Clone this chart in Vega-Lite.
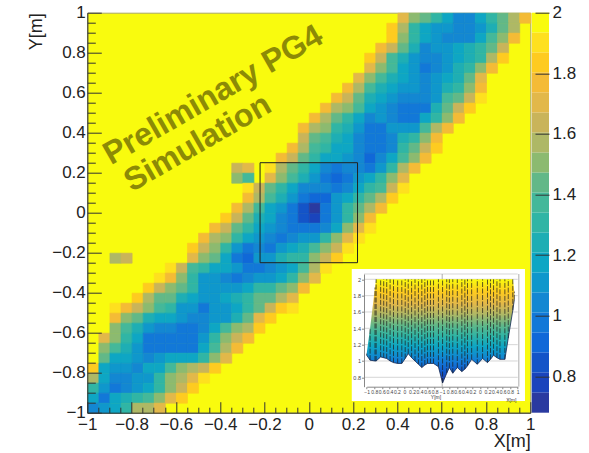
{"$schema":"https://vega.github.io/schema/vega-lite/v6.json","width":443,"height":400,"autosize":{"type":"none"},"padding":{"left":87.3,"top":12.7,"right":58.7,"bottom":40.3},"background":"white","config":{"view":{"fill":"#f9fb0e","stroke":"#a8a860"}},"resolve":{"scale":{"x":"independent","y":"independent"},"axis":{"x":"independent","y":"independent"}},"layer":[
{"resolve":{"axis":{"x":"independent","y":"independent"}},"layer":[
{"data":{"values":[
{"x":0.425,"y":0.975,"z":1.7},{"x":0.475,"y":0.975,"z":1.51},{"x":0.525,"y":0.975,"z":1.44},{"x":0.575,"y":0.975,"z":1.31},{"x":0.625,"y":0.975,"z":1.18},{"x":0.675,"y":0.975,"z":1.04},{"x":0.725,"y":0.975,"z":1.04},{"x":0.775,"y":0.975,"z":1.18},{"x":0.825,"y":0.975,"z":1.31},{"x":0.875,"y":0.975,"z":1.44},{"x":0.925,"y":0.975,"z":1.57},{"x":0.975,"y":0.975,"z":1.77},
{"x":0.375,"y":0.925,"z":1.84},{"x":0.425,"y":0.925,"z":1.57},{"x":0.475,"y":0.925,"z":1.31},{"x":0.525,"y":0.925,"z":1.18},{"x":0.575,"y":0.925,"z":1.11},{"x":0.625,"y":0.925,"z":1.11},{"x":0.675,"y":0.925,"z":1.04},{"x":0.725,"y":0.925,"z":1.04},{"x":0.775,"y":0.925,"z":1.11},{"x":0.825,"y":0.925,"z":1.24},{"x":0.875,"y":0.925,"z":1.44},{"x":0.925,"y":0.925,"z":1.57},
{"x":0.375,"y":0.875,"z":1.84},{"x":0.425,"y":0.875,"z":1.51},{"x":0.475,"y":0.875,"z":1.31},{"x":0.525,"y":0.875,"z":1.18},{"x":0.575,"y":0.875,"z":1.11},{"x":0.625,"y":0.875,"z":1.04},{"x":0.675,"y":0.875,"z":1.04},{"x":0.725,"y":0.875,"z":1.04},{"x":0.775,"y":0.875,"z":1.18},{"x":0.825,"y":0.875,"z":1.37},{"x":0.875,"y":0.875,"z":1.51},{"x":0.925,"y":0.875,"z":1.77},
{"x":0.325,"y":0.825,"z":1.77},{"x":0.375,"y":0.825,"z":1.64},{"x":0.425,"y":0.825,"z":1.44},{"x":0.475,"y":0.825,"z":1.24},{"x":0.525,"y":0.825,"z":1.04},{"x":0.575,"y":0.825,"z":1.11},{"x":0.625,"y":0.825,"z":1.11},{"x":0.675,"y":0.825,"z":1.18},{"x":0.725,"y":0.825,"z":1.24},{"x":0.775,"y":0.825,"z":1.31},{"x":0.825,"y":0.825,"z":1.44},{"x":0.875,"y":0.825,"z":1.64},
{"x":0.275,"y":0.775,"z":1.84},{"x":0.325,"y":0.775,"z":1.64},{"x":0.375,"y":0.775,"z":1.37},{"x":0.425,"y":0.775,"z":1.24},{"x":0.475,"y":0.775,"z":1.11},{"x":0.525,"y":0.775,"z":1.04},{"x":0.575,"y":0.775,"z":1.04},{"x":0.625,"y":0.775,"z":1.11},{"x":0.675,"y":0.775,"z":1.18},{"x":0.725,"y":0.775,"z":1.24},{"x":0.775,"y":0.775,"z":1.31},{"x":0.825,"y":0.775,"z":1.57},{"x":0.875,"y":0.775,"z":1.84},
{"x":0.275,"y":0.725,"z":1.7},{"x":0.325,"y":0.725,"z":1.51},{"x":0.375,"y":0.725,"z":1.37},{"x":0.425,"y":0.725,"z":1.18},{"x":0.475,"y":0.725,"z":1.11},{"x":0.525,"y":0.725,"z":0.98},{"x":0.575,"y":0.725,"z":1.04},{"x":0.625,"y":0.725,"z":1.11},{"x":0.675,"y":0.725,"z":1.24},{"x":0.725,"y":0.725,"z":1.31},{"x":0.775,"y":0.725,"z":1.51},{"x":0.825,"y":0.725,"z":1.77},
{"x":0.225,"y":0.675,"z":1.7},{"x":0.275,"y":0.675,"z":1.51},{"x":0.325,"y":0.675,"z":1.37},{"x":0.375,"y":0.675,"z":1.24},{"x":0.425,"y":0.675,"z":1.18},{"x":0.475,"y":0.675,"z":1.11},{"x":0.525,"y":0.675,"z":1.04},{"x":0.575,"y":0.675,"z":1.11},{"x":0.625,"y":0.675,"z":1.18},{"x":0.675,"y":0.675,"z":1.24},{"x":0.725,"y":0.675,"z":1.44},{"x":0.775,"y":0.675,"z":1.7},
{"x":0.175,"y":0.625,"z":1.77},{"x":0.225,"y":0.625,"z":1.57},{"x":0.275,"y":0.625,"z":1.37},{"x":0.325,"y":0.625,"z":1.24},{"x":0.375,"y":0.625,"z":1.18},{"x":0.425,"y":0.625,"z":1.11},{"x":0.475,"y":0.625,"z":1.11},{"x":0.525,"y":0.625,"z":1.04},{"x":0.575,"y":0.625,"z":1.11},{"x":0.625,"y":0.625,"z":1.24},{"x":0.675,"y":0.625,"z":1.31},{"x":0.725,"y":0.625,"z":1.51},{"x":0.775,"y":0.625,"z":1.77},
{"x":0.125,"y":0.575,"z":1.77},{"x":0.175,"y":0.575,"z":1.64},{"x":0.225,"y":0.575,"z":1.44},{"x":0.275,"y":0.575,"z":1.24},{"x":0.325,"y":0.575,"z":1.18},{"x":0.375,"y":0.575,"z":1.11},{"x":0.425,"y":0.575,"z":1.04},{"x":0.475,"y":0.575,"z":1.04},{"x":0.525,"y":0.575,"z":1.04},{"x":0.575,"y":0.575,"z":1.11},{"x":0.625,"y":0.575,"z":1.37},{"x":0.675,"y":0.575,"z":1.44},{"x":0.725,"y":0.575,"z":1.64},{"x":0.775,"y":0.575,"z":1.9},
{"x":0.075,"y":0.525,"z":1.77},{"x":0.125,"y":0.525,"z":1.57},{"x":0.175,"y":0.525,"z":1.51},{"x":0.225,"y":0.525,"z":1.37},{"x":0.275,"y":0.525,"z":1.18},{"x":0.325,"y":0.525,"z":1.11},{"x":0.375,"y":0.525,"z":1.04},{"x":0.425,"y":0.525,"z":0.98},{"x":0.475,"y":0.525,"z":0.98},{"x":0.525,"y":0.525,"z":0.98},{"x":0.575,"y":0.525,"z":1.24},{"x":0.625,"y":0.525,"z":1.44},{"x":0.675,"y":0.525,"z":1.64},{"x":0.725,"y":0.525,"z":1.84},
{"x":0.025,"y":0.475,"z":1.77},{"x":0.075,"y":0.475,"z":1.57},{"x":0.125,"y":0.475,"z":1.44},{"x":0.175,"y":0.475,"z":1.31},{"x":0.225,"y":0.475,"z":1.18},{"x":0.275,"y":0.475,"z":1.04},{"x":0.325,"y":0.475,"z":1.11},{"x":0.375,"y":0.475,"z":1.04},{"x":0.425,"y":0.475,"z":0.98},{"x":0.475,"y":0.475,"z":0.98},{"x":0.525,"y":0.475,"z":1.18},{"x":0.575,"y":0.475,"z":1.31},{"x":0.625,"y":0.475,"z":1.51},{"x":0.675,"y":0.475,"z":1.77},
{"x":-0.025,"y":0.425,"z":1.77},{"x":0.025,"y":0.425,"z":1.57},{"x":0.075,"y":0.425,"z":1.51},{"x":0.125,"y":0.425,"z":1.31},{"x":0.175,"y":0.425,"z":1.24},{"x":0.225,"y":0.425,"z":1.11},{"x":0.275,"y":0.425,"z":0.98},{"x":0.325,"y":0.425,"z":0.98},{"x":0.375,"y":0.425,"z":1.11},{"x":0.425,"y":0.425,"z":1.11},{"x":0.475,"y":0.425,"z":1.11},{"x":0.525,"y":0.425,"z":1.37},{"x":0.575,"y":0.425,"z":1.57},{"x":0.625,"y":0.425,"z":1.77},
{"x":-0.025,"y":0.375,"z":1.64},{"x":0.025,"y":0.375,"z":1.44},{"x":0.075,"y":0.375,"z":1.37},{"x":0.125,"y":0.375,"z":1.24},{"x":0.175,"y":0.375,"z":1.18},{"x":0.225,"y":0.375,"z":1.04},{"x":0.275,"y":0.375,"z":0.98},{"x":0.325,"y":0.375,"z":0.98},{"x":0.375,"y":0.375,"z":1.04},{"x":0.425,"y":0.375,"z":1.24},{"x":0.475,"y":0.375,"z":1.31},{"x":0.525,"y":0.375,"z":1.51},{"x":0.575,"y":0.375,"z":1.77},
{"x":-0.075,"y":0.325,"z":1.77},{"x":-0.025,"y":0.325,"z":1.57},{"x":0.025,"y":0.325,"z":1.37},{"x":0.075,"y":0.325,"z":1.31},{"x":0.125,"y":0.325,"z":1.18},{"x":0.175,"y":0.325,"z":1.18},{"x":0.225,"y":0.325,"z":1.04},{"x":0.275,"y":0.325,"z":0.98},{"x":0.325,"y":0.325,"z":0.98},{"x":0.375,"y":0.325,"z":1.04},{"x":0.425,"y":0.325,"z":1.31},{"x":0.475,"y":0.325,"z":1.44},{"x":0.525,"y":0.325,"z":1.64},{"x":0.575,"y":0.325,"z":1.84},
{"x":-0.125,"y":0.275,"z":1.77},{"x":-0.075,"y":0.275,"z":1.64},{"x":-0.025,"y":0.275,"z":1.44},{"x":0.025,"y":0.275,"z":1.31},{"x":0.075,"y":0.275,"z":1.18},{"x":0.125,"y":0.275,"z":1.18},{"x":0.175,"y":0.275,"z":1.11},{"x":0.225,"y":0.275,"z":1.04},{"x":0.275,"y":0.275,"z":0.91},{"x":0.325,"y":0.275,"z":1.04},{"x":0.375,"y":0.275,"z":1.18},{"x":0.425,"y":0.275,"z":1.37},{"x":0.475,"y":0.275,"z":1.51},{"x":0.525,"y":0.275,"z":1.77},
{"x":-0.325,"y":0.225,"z":1.64},{"x":-0.275,"y":0.225,"z":1.7},{"x":-0.175,"y":0.225,"z":1.9},{"x":-0.125,"y":0.225,"z":1.57},{"x":-0.075,"y":0.225,"z":1.44},{"x":-0.025,"y":0.225,"z":1.31},{"x":0.025,"y":0.225,"z":1.18},{"x":0.075,"y":0.225,"z":1.04},{"x":0.125,"y":0.225,"z":0.98},{"x":0.175,"y":0.225,"z":1.04},{"x":0.225,"y":0.225,"z":1.04},{"x":0.275,"y":0.225,"z":0.98},{"x":0.325,"y":0.225,"z":1.11},{"x":0.375,"y":0.225,"z":1.31},{"x":0.425,"y":0.225,"z":1.57},{"x":0.475,"y":0.225,"z":1.77},
{"x":-0.325,"y":0.175,"z":1.51},{"x":-0.275,"y":0.175,"z":1.37},{"x":-0.175,"y":0.175,"z":1.7},{"x":-0.125,"y":0.175,"z":1.51},{"x":-0.075,"y":0.175,"z":1.37},{"x":-0.025,"y":0.175,"z":1.24},{"x":0.025,"y":0.175,"z":1.11},{"x":0.075,"y":0.175,"z":0.98},{"x":0.125,"y":0.175,"z":0.91},{"x":0.175,"y":0.175,"z":0.98},{"x":0.225,"y":0.175,"z":1.11},{"x":0.275,"y":0.175,"z":1.18},{"x":0.325,"y":0.175,"z":1.31},{"x":0.375,"y":0.175,"z":1.51},{"x":0.425,"y":0.175,"z":1.7},
{"x":-0.275,"y":0.125,"z":1.9},{"x":-0.225,"y":0.125,"z":1.64},{"x":-0.175,"y":0.125,"z":1.44},{"x":-0.125,"y":0.125,"z":1.31},{"x":-0.075,"y":0.125,"z":1.18},{"x":-0.025,"y":0.125,"z":1.04},{"x":0.025,"y":0.125,"z":1.04},{"x":0.075,"y":0.125,"z":1.04},{"x":0.125,"y":0.125,"z":0.98},{"x":0.175,"y":0.125,"z":1.04},{"x":0.225,"y":0.125,"z":1.18},{"x":0.275,"y":0.125,"z":1.31},{"x":0.325,"y":0.125,"z":1.37},{"x":0.375,"y":0.125,"z":1.64},{"x":0.425,"y":0.125,"z":1.9},
{"x":-0.275,"y":0.075,"z":1.77},{"x":-0.225,"y":0.075,"z":1.57},{"x":-0.175,"y":0.075,"z":1.37},{"x":-0.125,"y":0.075,"z":1.24},{"x":-0.075,"y":0.075,"z":1.11},{"x":-0.025,"y":0.075,"z":0.98},{"x":0.025,"y":0.075,"z":0.91},{"x":0.075,"y":0.075,"z":0.91},{"x":0.125,"y":0.075,"z":1.11},{"x":0.175,"y":0.075,"z":1.18},{"x":0.225,"y":0.075,"z":1.31},{"x":0.275,"y":0.075,"z":1.44},{"x":0.325,"y":0.075,"z":1.57},{"x":0.375,"y":0.075,"z":1.84},
{"x":-0.325,"y":0.025,"z":1.77},{"x":-0.275,"y":0.025,"z":1.57},{"x":-0.225,"y":0.025,"z":1.37},{"x":-0.175,"y":0.025,"z":1.18},{"x":-0.125,"y":0.025,"z":1.11},{"x":-0.075,"y":0.025,"z":0.98},{"x":-0.025,"y":0.025,"z":0.85},{"x":0.025,"y":0.025,"z":0.71},{"x":0.075,"y":0.025,"z":0.98},{"x":0.125,"y":0.025,"z":1.11},{"x":0.175,"y":0.025,"z":1.31},{"x":0.225,"y":0.025,"z":1.44},{"x":0.275,"y":0.025,"z":1.57},{"x":0.325,"y":0.025,"z":1.77},
{"x":-0.375,"y":-0.025,"z":1.84},{"x":-0.325,"y":-0.025,"z":1.64},{"x":-0.275,"y":-0.025,"z":1.44},{"x":-0.225,"y":-0.025,"z":1.24},{"x":-0.175,"y":-0.025,"z":1.18},{"x":-0.125,"y":-0.025,"z":1.04},{"x":-0.075,"y":-0.025,"z":0.98},{"x":-0.025,"y":-0.025,"z":0.85},{"x":0.025,"y":-0.025,"z":0.78},{"x":0.075,"y":-0.025,"z":0.98},{"x":0.125,"y":-0.025,"z":1.11},{"x":0.175,"y":-0.025,"z":1.31},{"x":0.225,"y":-0.025,"z":1.51},{"x":0.275,"y":-0.025,"z":1.77},
{"x":-0.425,"y":-0.075,"z":1.77},{"x":-0.375,"y":-0.075,"z":1.64},{"x":-0.325,"y":-0.075,"z":1.44},{"x":-0.275,"y":-0.075,"z":1.31},{"x":-0.225,"y":-0.075,"z":1.18},{"x":-0.175,"y":-0.075,"z":1.11},{"x":-0.125,"y":-0.075,"z":1.04},{"x":-0.075,"y":-0.075,"z":0.98},{"x":-0.025,"y":-0.075,"z":0.98},{"x":0.025,"y":-0.075,"z":0.98},{"x":0.075,"y":-0.075,"z":1.04},{"x":0.125,"y":-0.075,"z":1.18},{"x":0.175,"y":-0.075,"z":1.51},{"x":0.225,"y":-0.075,"z":1.7},{"x":0.275,"y":-0.075,"z":1.9},
{"x":-0.475,"y":-0.125,"z":1.77},{"x":-0.425,"y":-0.125,"z":1.57},{"x":-0.375,"y":-0.125,"z":1.51},{"x":-0.325,"y":-0.125,"z":1.31},{"x":-0.275,"y":-0.125,"z":1.18},{"x":-0.225,"y":-0.125,"z":1.11},{"x":-0.175,"y":-0.125,"z":1.04},{"x":-0.125,"y":-0.125,"z":0.98},{"x":-0.075,"y":-0.125,"z":1.04},{"x":-0.025,"y":-0.125,"z":1.11},{"x":0.025,"y":-0.125,"z":1.11},{"x":0.075,"y":-0.125,"z":1.31},{"x":0.125,"y":-0.125,"z":1.51},{"x":0.175,"y":-0.125,"z":1.7},{"x":0.225,"y":-0.125,"z":1.9},
{"x":-0.525,"y":-0.175,"z":1.84},{"x":-0.475,"y":-0.175,"z":1.64},{"x":-0.425,"y":-0.175,"z":1.51},{"x":-0.375,"y":-0.175,"z":1.31},{"x":-0.325,"y":-0.175,"z":1.11},{"x":-0.275,"y":-0.175,"z":0.98},{"x":-0.225,"y":-0.175,"z":1.04},{"x":-0.175,"y":-0.175,"z":0.98},{"x":-0.125,"y":-0.175,"z":1.11},{"x":-0.075,"y":-0.175,"z":1.18},{"x":-0.025,"y":-0.175,"z":1.24},{"x":0.025,"y":-0.175,"z":1.37},{"x":0.075,"y":-0.175,"z":1.51},{"x":0.125,"y":-0.175,"z":1.64},{"x":0.175,"y":-0.175,"z":1.9},
{"x":-0.875,"y":-0.225,"z":1.57},{"x":-0.825,"y":-0.225,"z":1.64},{"x":-0.525,"y":-0.225,"z":1.7},{"x":-0.475,"y":-0.225,"z":1.51},{"x":-0.425,"y":-0.225,"z":1.44},{"x":-0.375,"y":-0.225,"z":1.18},{"x":-0.325,"y":-0.225,"z":0.98},{"x":-0.275,"y":-0.225,"z":0.91},{"x":-0.225,"y":-0.225,"z":1.11},{"x":-0.175,"y":-0.225,"z":1.11},{"x":-0.125,"y":-0.225,"z":1.24},{"x":-0.075,"y":-0.225,"z":1.31},{"x":-0.025,"y":-0.225,"z":1.31},{"x":0.025,"y":-0.225,"z":1.51},{"x":0.075,"y":-0.225,"z":1.64},{"x":0.125,"y":-0.225,"z":1.84},
{"x":-0.625,"y":-0.275,"z":1.9},{"x":-0.575,"y":-0.275,"z":1.64},{"x":-0.525,"y":-0.275,"z":1.37},{"x":-0.475,"y":-0.275,"z":1.31},{"x":-0.425,"y":-0.275,"z":1.18},{"x":-0.375,"y":-0.275,"z":1.18},{"x":-0.325,"y":-0.275,"z":1.11},{"x":-0.275,"y":-0.275,"z":0.98},{"x":-0.225,"y":-0.275,"z":0.98},{"x":-0.175,"y":-0.275,"z":1.04},{"x":-0.125,"y":-0.275,"z":1.11},{"x":-0.075,"y":-0.275,"z":1.18},{"x":-0.025,"y":-0.275,"z":1.37},{"x":0.025,"y":-0.275,"z":1.57},{"x":0.075,"y":-0.275,"z":1.9},
{"x":-0.675,"y":-0.325,"z":1.9},{"x":-0.625,"y":-0.325,"z":1.77},{"x":-0.575,"y":-0.325,"z":1.51},{"x":-0.525,"y":-0.325,"z":1.31},{"x":-0.475,"y":-0.325,"z":1.11},{"x":-0.425,"y":-0.325,"z":1.11},{"x":-0.375,"y":-0.325,"z":1.04},{"x":-0.325,"y":-0.325,"z":0.98},{"x":-0.275,"y":-0.325,"z":1.04},{"x":-0.225,"y":-0.325,"z":1.11},{"x":-0.175,"y":-0.325,"z":1.11},{"x":-0.125,"y":-0.325,"z":1.18},{"x":-0.075,"y":-0.325,"z":1.31},{"x":-0.025,"y":-0.325,"z":1.51},{"x":0.025,"y":-0.325,"z":1.7},
{"x":-0.725,"y":-0.375,"z":1.84},{"x":-0.675,"y":-0.375,"z":1.64},{"x":-0.625,"y":-0.375,"z":1.51},{"x":-0.575,"y":-0.375,"z":1.44},{"x":-0.525,"y":-0.375,"z":1.31},{"x":-0.475,"y":-0.375,"z":1.11},{"x":-0.425,"y":-0.375,"z":1.11},{"x":-0.375,"y":-0.375,"z":1.11},{"x":-0.325,"y":-0.375,"z":1.11},{"x":-0.275,"y":-0.375,"z":1.18},{"x":-0.225,"y":-0.375,"z":1.31},{"x":-0.175,"y":-0.375,"z":1.31},{"x":-0.125,"y":-0.375,"z":1.44},{"x":-0.075,"y":-0.375,"z":1.51},{"x":-0.025,"y":-0.375,"z":1.77},
{"x":-0.775,"y":-0.425,"z":1.84},{"x":-0.725,"y":-0.425,"z":1.57},{"x":-0.675,"y":-0.425,"z":1.44},{"x":-0.625,"y":-0.425,"z":1.44},{"x":-0.575,"y":-0.425,"z":1.24},{"x":-0.525,"y":-0.425,"z":1.18},{"x":-0.475,"y":-0.425,"z":1.11},{"x":-0.425,"y":-0.425,"z":1.11},{"x":-0.375,"y":-0.425,"z":1.18},{"x":-0.325,"y":-0.425,"z":1.24},{"x":-0.275,"y":-0.425,"z":1.31},{"x":-0.225,"y":-0.425,"z":1.44},{"x":-0.175,"y":-0.425,"z":1.44},{"x":-0.125,"y":-0.425,"z":1.57},{"x":-0.075,"y":-0.425,"z":1.7},
{"x":-0.875,"y":-0.475,"z":1.9},{"x":-0.825,"y":-0.475,"z":1.77},{"x":-0.775,"y":-0.475,"z":1.64},{"x":-0.725,"y":-0.475,"z":1.51},{"x":-0.675,"y":-0.475,"z":1.37},{"x":-0.625,"y":-0.475,"z":1.31},{"x":-0.575,"y":-0.475,"z":1.11},{"x":-0.525,"y":-0.475,"z":1.11},{"x":-0.475,"y":-0.475,"z":0.98},{"x":-0.425,"y":-0.475,"z":1.11},{"x":-0.375,"y":-0.475,"z":1.11},{"x":-0.325,"y":-0.475,"z":1.18},{"x":-0.275,"y":-0.475,"z":1.31},{"x":-0.225,"y":-0.475,"z":1.44},{"x":-0.175,"y":-0.475,"z":1.64},{"x":-0.125,"y":-0.475,"z":1.84},{"x":-0.075,"y":-0.475,"z":1.9},
{"x":-0.875,"y":-0.525,"z":1.77},{"x":-0.825,"y":-0.525,"z":1.51},{"x":-0.775,"y":-0.525,"z":1.44},{"x":-0.725,"y":-0.525,"z":1.24},{"x":-0.675,"y":-0.525,"z":1.18},{"x":-0.625,"y":-0.525,"z":1.18},{"x":-0.575,"y":-0.525,"z":1.11},{"x":-0.525,"y":-0.525,"z":1.04},{"x":-0.475,"y":-0.525,"z":1.04},{"x":-0.425,"y":-0.525,"z":1.11},{"x":-0.375,"y":-0.525,"z":1.11},{"x":-0.325,"y":-0.525,"z":1.24},{"x":-0.275,"y":-0.525,"z":1.44},{"x":-0.225,"y":-0.525,"z":1.7},{"x":-0.175,"y":-0.525,"z":1.84},
{"x":-0.875,"y":-0.575,"z":1.51},{"x":-0.825,"y":-0.575,"z":1.37},{"x":-0.775,"y":-0.575,"z":1.24},{"x":-0.725,"y":-0.575,"z":1.11},{"x":-0.675,"y":-0.575,"z":1.04},{"x":-0.625,"y":-0.575,"z":1.04},{"x":-0.575,"y":-0.575,"z":0.98},{"x":-0.525,"y":-0.575,"z":0.98},{"x":-0.475,"y":-0.575,"z":1.04},{"x":-0.425,"y":-0.575,"z":1.18},{"x":-0.375,"y":-0.575,"z":1.37},{"x":-0.325,"y":-0.575,"z":1.51},{"x":-0.275,"y":-0.575,"z":1.57},{"x":-0.225,"y":-0.575,"z":1.84},
{"x":-0.925,"y":-0.625,"z":1.7},{"x":-0.875,"y":-0.625,"z":1.51},{"x":-0.825,"y":-0.625,"z":1.31},{"x":-0.775,"y":-0.625,"z":1.18},{"x":-0.725,"y":-0.625,"z":0.98},{"x":-0.675,"y":-0.625,"z":0.98},{"x":-0.625,"y":-0.625,"z":0.98},{"x":-0.575,"y":-0.625,"z":0.98},{"x":-0.525,"y":-0.625,"z":0.98},{"x":-0.475,"y":-0.625,"z":1.11},{"x":-0.425,"y":-0.625,"z":1.31},{"x":-0.375,"y":-0.625,"z":1.51},{"x":-0.325,"y":-0.625,"z":1.64},{"x":-0.275,"y":-0.625,"z":1.77},
{"x":-0.925,"y":-0.675,"z":1.51},{"x":-0.875,"y":-0.675,"z":1.37},{"x":-0.825,"y":-0.675,"z":1.24},{"x":-0.775,"y":-0.675,"z":1.11},{"x":-0.725,"y":-0.675,"z":0.98},{"x":-0.675,"y":-0.675,"z":0.98},{"x":-0.625,"y":-0.675,"z":0.98},{"x":-0.575,"y":-0.675,"z":0.98},{"x":-0.525,"y":-0.675,"z":0.98},{"x":-0.475,"y":-0.675,"z":1.18},{"x":-0.425,"y":-0.675,"z":1.37},{"x":-0.375,"y":-0.675,"z":1.57},{"x":-0.325,"y":-0.675,"z":1.77},
{"x":-0.925,"y":-0.725,"z":1.44},{"x":-0.875,"y":-0.725,"z":1.18},{"x":-0.825,"y":-0.725,"z":1.18},{"x":-0.775,"y":-0.725,"z":1.11},{"x":-0.725,"y":-0.725,"z":1.04},{"x":-0.675,"y":-0.725,"z":1.11},{"x":-0.625,"y":-0.725,"z":1.18},{"x":-0.575,"y":-0.725,"z":1.18},{"x":-0.525,"y":-0.725,"z":1.18},{"x":-0.475,"y":-0.725,"z":1.31},{"x":-0.425,"y":-0.725,"z":1.51},{"x":-0.375,"y":-0.725,"z":1.7},
{"x":-0.975,"y":-0.775,"z":1.84},{"x":-0.925,"y":-0.775,"z":1.18},{"x":-0.875,"y":-0.775,"z":1.11},{"x":-0.825,"y":-0.775,"z":1.11},{"x":-0.775,"y":-0.775,"z":1.04},{"x":-0.725,"y":-0.775,"z":1.18},{"x":-0.675,"y":-0.775,"z":1.18},{"x":-0.625,"y":-0.775,"z":1.37},{"x":-0.575,"y":-0.775,"z":1.51},{"x":-0.525,"y":-0.775,"z":1.57},{"x":-0.475,"y":-0.775,"z":1.64},{"x":-0.425,"y":-0.775,"z":1.84},
{"x":-0.975,"y":-0.825,"z":1.57},{"x":-0.925,"y":-0.825,"z":1.18},{"x":-0.875,"y":-0.825,"z":1.04},{"x":-0.825,"y":-0.825,"z":1.04},{"x":-0.775,"y":-0.825,"z":1.11},{"x":-0.725,"y":-0.825,"z":1.11},{"x":-0.675,"y":-0.825,"z":1.31},{"x":-0.625,"y":-0.825,"z":1.51},{"x":-0.575,"y":-0.825,"z":1.57},{"x":-0.525,"y":-0.825,"z":1.7},{"x":-0.475,"y":-0.825,"z":1.9},
{"x":-0.975,"y":-0.875,"z":1.31},{"x":-0.925,"y":-0.875,"z":1.11},{"x":-0.875,"y":-0.875,"z":0.98},{"x":-0.825,"y":-0.875,"z":1.04},{"x":-0.775,"y":-0.875,"z":1.11},{"x":-0.725,"y":-0.875,"z":1.18},{"x":-0.675,"y":-0.875,"z":1.31},{"x":-0.625,"y":-0.875,"z":1.51},{"x":-0.575,"y":-0.875,"z":1.64},{"x":-0.525,"y":-0.875,"z":1.84},
{"x":-0.975,"y":-0.925,"z":1.18},{"x":-0.925,"y":-0.925,"z":0.98},{"x":-0.875,"y":-0.925,"z":1.18},{"x":-0.825,"y":-0.925,"z":1.24},{"x":-0.775,"y":-0.925,"z":1.31},{"x":-0.725,"y":-0.925,"z":1.37},{"x":-0.675,"y":-0.925,"z":1.51},{"x":-0.625,"y":-0.925,"z":1.7},{"x":-0.575,"y":-0.925,"z":1.84},
{"x":-0.975,"y":-0.975,"z":1.04},{"x":-0.925,"y":-0.975,"z":1.11},{"x":-0.875,"y":-0.975,"z":1.18},{"x":-0.825,"y":-0.975,"z":1.31},{"x":-0.775,"y":-0.975,"z":1.57},{"x":-0.725,"y":-0.975,"z":1.57},{"x":-0.675,"y":-0.975,"z":1.7}
]},"mark":{"type":"rect","strokeWidth":0.7},"encoding":{
"x":{"field":"x","type":"quantitative","bin":{"extent":[-1,1],"step":0.05},"scale":{"domain":[-1,1],"nice":false},"axis":{"orient":"bottom","values":[-1,-0.8,-0.6,-0.4,-0.2,0,0.2,0.4,0.6,0.8,1],"format":"~g","zindex":1,"grid":false,"tickSize":-11,"tickColor":"#333","domainColor":"#333","labelFont":"Liberation Sans","labelFontSize":17,"labelColor":"#222","labelPadding":15,"labelOverlap":false,"labelFlush":false,"title":"X[m]","titleFont":"Liberation Sans","titleFontSize":18,"titleFontWeight":"normal","titleColor":"#222","titleAnchor":"end","titlePadding":0}},
"y":{"field":"y","type":"quantitative","bin":{"extent":[-1,1],"step":0.05},"scale":{"domain":[-1,1],"nice":false},"axis":{"orient":"left","values":[-1,-0.8,-0.6,-0.4,-0.2,0,0.2,0.4,0.6,0.8,1],"format":"~g","zindex":1,"grid":false,"tickSize":-14,"tickColor":"#333","domainColor":"#333","labelFont":"Liberation Sans","labelFontSize":17,"labelColor":"#222","labelPadding":16,"labelOverlap":false,"labelFlush":false,"title":"Y[m]","titleFont":"Liberation Sans","titleFontSize":18,"titleFontWeight":"normal","titleColor":"#222","titleAnchor":"end","titlePadding":6}},
"color":{"field":"z","type":"quantitative","legend":null,"scale":{"type":"quantize","domain":[0.68,2],"range":["#2a3aa0","#1a44bc","#1454c8","#1068d8","#1278d8","#1387d2","#0f97cc","#0ea6c4","#1eaeb4","#30b5a5","#44b89a","#62b888","#8cba70","#aeb866","#c9b45a","#e2b84a","#f4bb36","#fecb20","#fee01f","#f9fb0e"]}},
"stroke":{"field":"z","type":"quantitative","legend":null,"scale":{"type":"quantize","domain":[0.68,2],"range":["#2a3aa0","#1a44bc","#1454c8","#1068d8","#1278d8","#1387d2","#0f97cc","#0ea6c4","#1eaeb4","#30b5a5","#44b89a","#62b888","#8cba70","#aeb866","#c9b45a","#e2b84a","#f4bb36","#fecb20","#fee01f","#f9fb0e"]}}}},
{"data":{"values":[{"a":-0.22,"b":0.22,"c":0.25,"d":-0.25}]},"mark":{"type":"rect","fillOpacity":0,"stroke":"#222","strokeWidth":1},"encoding":{
"x":{"field":"a","type":"quantitative","scale":{"domain":[-1,1],"nice":false},"axis":{"orient":"bottom","values":[-0.95,-0.9,-0.85,-0.75,-0.7,-0.65,-0.55,-0.5,-0.45,-0.35,-0.3,-0.25,-0.15,-0.1,-0.05,0.05,0.1,0.15,0.25,0.3,0.35,0.45,0.5,0.55,0.65,0.7,0.75,0.85,0.9,0.95],"labels":false,"domain":false,"grid":false,"title":null,"zindex":1,"tickSize":-5.5,"tickColor":"#333"}},"x2":{"field":"b"},
"y":{"field":"c","type":"quantitative","scale":{"domain":[-1,1],"nice":false},"axis":{"orient":"left","values":[-0.95,-0.9,-0.85,-0.75,-0.7,-0.65,-0.55,-0.5,-0.45,-0.35,-0.3,-0.25,-0.15,-0.1,-0.05,0.05,0.1,0.15,0.25,0.3,0.35,0.45,0.5,0.55,0.65,0.7,0.75,0.85,0.9,0.95],"labels":false,"domain":false,"grid":false,"title":null,"zindex":1,"tickSize":-8,"tickColor":"#333"}},"y2":{"field":"d"}}},
{"data":{"values":[{"a":0.194,"b":0.976,"c":-0.281,"d":-0.942}]},"mark":{"type":"rect","fill":"white"},"encoding":{"x":{"field":"a","type":"quantitative","scale":{"domain":[-1,1],"nice":false},"axis":null},"x2":{"field":"b"},"y":{"field":"c","type":"quantitative","scale":{"domain":[-1,1],"nice":false},"axis":null},"y2":{"field":"d"}}},
{"data":{"values":[{"a":-0.432,"c":0.589,"t":"Preliminary PG4"},{"a":-0.502,"c":0.35,"t":"Simulation"}]},"mark":{"type":"text","font":"Liberation Sans","fontWeight":"bold","fontSize":32,"angle":330,"color":"#8c8a06","align":"center","baseline":"middle"},"encoding":{"x":{"field":"a","type":"quantitative","scale":{"domain":[-1,1],"nice":false},"axis":null},"y":{"field":"c","type":"quantitative","scale":{"domain":[-1,1],"nice":false},"axis":null},"text":{"field":"t"}}}
]},
{"resolve":{"axis":{"x":"independent","y":"independent"}},"layer":[
{"data":{"values":[{"a":-1.07,"b":3.0,"z":2.065},{"a":-1.07,"b":3.0,"z":2},{"a":-1.07,"b":3.0,"z":1.8},{"a":-1.07,"b":3.0,"z":1.6},{"a":-1.07,"b":3.0,"z":1.4},{"a":-1.07,"b":3.0,"z":1.2},{"a":-1.07,"b":3.0,"z":1},{"a":-1.07,"b":3.0,"z":0.8}]},"mark":{"type":"rule","stroke":"#c4c4c4","strokeWidth":0.7},"encoding":{"x":{"field":"a","type":"quantitative","scale":{"domain":[-1,3],"range":[279.4,430.4],"nice":false},"axis":{"orient":"bottom","offset":-26,"values":[-1,-0.8,-0.6,-0.4,-0.2,0,0.2,0.4,0.6,0.8,1,1.2,1.4,1.6,1.8,2,2.2,2.4,2.6,2.8,3],"labelExpr":"(datum.value==1||datum.value==-1)?'−1':format(abs(datum.value<1?datum.value:datum.value-2),'~g')","labelFont":"Liberation Sans","labelFontSize":5,"labelColor":"#444","labelPadding":1,"labelOverlap":false,"labelFlush":false,"tickSize":2,"tickColor":"#888","domainColor":"#888","grid":false,"title":null,"zindex":1}},"x2":{"field":"b"},"y":{"field":"z","type":"quantitative","scale":{"domain":[0.685,2.065],"range":[374,261.3],"nice":false},"axis":{"orient":"left","offset":-276.7,"values":[0.8,1,1.2,1.4,1.6,1.8,2],"format":"~g","labelFont":"Liberation Sans","labelFontSize":5.5,"labelColor":"#444","labelPadding":1,"tickSize":2.5,"tickColor":"#888","domainColor":"#888","grid":false,"title":null,"zindex":1}}}},
{"data":{"values":[{"a":1,"c":0.685,"d":2.065},{"a":3.03,"c":0.685,"d":2.065}]},"mark":{"type":"rule","stroke":"#999","strokeWidth":0.8},"encoding":{"x":{"field":"a","type":"quantitative","axis":null,"scale":{"domain":[-1,3],"range":[279.4,430.4],"nice":false}},"y":{"field":"c","type":"quantitative","axis":null,"scale":{"domain":[0.685,2.065],"range":[374,261.3],"nice":false}},"y2":{"field":"d"}}},
{"data":{"name":"surface","values":[
{"u":-1.0,"low":1.07,"high":1.09},{"u":-0.91,"low":1.01,"high":1.4},{"u":-0.78,"low":1.0,"high":1.9},{"u":-0.75,"low":1.0,"high":2},{"u":-0.63,"low":1.05,"high":2},{"u":-0.55,"low":1.04,"high":2},{"u":-0.47,"low":1.03,"high":2},{"u":-0.38,"low":1.0,"high":2},{"u":-0.29,"low":0.98,"high":2},{"u":-0.18,"low":0.97,"high":2},{"u":-0.07,"low":0.97,"high":2},{"u":0.02,"low":1.03,"high":2},{"u":0.1,"low":1.09,"high":2},{"u":0.19,"low":1.04,"high":2},{"u":0.28,"low":1.0,"high":2},{"u":0.37,"low":0.96,"high":2},{"u":0.46,"low":0.92,"high":2},{"u":0.54,"low":0.95,"high":2},{"u":0.61,"low":0.97,"high":2},{"u":0.69,"low":0.97,"high":2},{"u":0.77,"low":0.97,"high":2},{"u":0.9,"low":0.93,"high":2},{"u":1.01,"low":0.73,"high":2},{"u":1.12,"low":0.85,"high":2},{"u":1.19,"low":0.92,"high":2},{"u":1.28,"low":0.85,"high":2},{"u":1.4,"low":0.92,"high":2},{"u":1.52,"low":0.87,"high":2},{"u":1.6,"low":0.9,"high":2},{"u":1.67,"low":0.94,"high":2},{"u":1.78,"low":1.02,"high":2},{"u":1.93,"low":0.96,"high":2},{"u":2.07,"low":1.03,"high":2},{"u":2.2,"low":0.98,"high":2},{"u":2.28,"low":1.02,"high":2},{"u":2.36,"low":1.07,"high":2},{"u":2.45,"low":1.04,"high":2},{"u":2.53,"low":1.02,"high":2},{"u":2.66,"low":1.02,"high":2},{"u":2.75,"low":1.28,"high":2},{"u":2.87,"low":1.62,"high":2},{"u":2.91,"low":1.75,"high":1.85}]},
"mark":{"type":"area","line":false,"fill":{"gradient":"linear","x1":0,"y1":1,"x2":0,"y2":0,"stops":[{"offset":0,"color":"#2a3aa0"},{"offset":0.094,"color":"#1454c8"},{"offset":0.197,"color":"#1278d8"},{"offset":0.354,"color":"#0ea6c4"},{"offset":0.457,"color":"#30b5a5"},{"offset":0.559,"color":"#62b888"},{"offset":0.661,"color":"#aeb866"},{"offset":0.764,"color":"#e2b84a"},{"offset":0.874,"color":"#fecb20"},{"offset":1,"color":"#f9fb0e"}]}},"encoding":{"x":{"field":"u","type":"quantitative","axis":null,"scale":{"domain":[-1,3],"range":[279.4,430.4],"nice":false}},"y":{"field":"low","type":"quantitative","axis":null,"scale":{"domain":[0.685,2.065],"range":[374,261.3],"nice":false}},"y2":{"field":"high"}}},
{"data":{"name":"surface"},"mark":{"type":"rule","stroke":"#1c1c1c","strokeWidth":1,"strokeOpacity":0.7,"strokeDash":[5,1.5]},"encoding":{"x":{"field":"u","type":"quantitative","axis":null,"scale":{"domain":[-1,3],"range":[279.4,430.4],"nice":false}},"y":{"field":"low","type":"quantitative","axis":null,"scale":{"domain":[0.685,2.065],"range":[374,261.3],"nice":false}},"y2":{"field":"high"}}},
{"data":{"name":"surface"},"mark":{"type":"line","stroke":"#10254f","strokeWidth":0.8},"encoding":{"x":{"field":"u","type":"quantitative","axis":null,"scale":{"domain":[-1,3],"range":[279.4,430.4],"nice":false}},"y":{"field":"low","type":"quantitative","axis":null,"scale":{"domain":[0.685,2.065],"range":[374,261.3],"nice":false}}}},
{"data":{"values":[{"a":0.836,"c":0.56,"t":"Y[m]"},{"a":2.83,"c":0.52,"t":"X[m]"}]},"mark":{"type":"text","font":"Liberation Sans","fontSize":5,"color":"#333"},"encoding":{"x":{"field":"a","type":"quantitative","axis":null,"scale":{"domain":[-1,3],"range":[279.4,430.4],"nice":false}},"y":{"field":"c","type":"quantitative","axis":null,"scale":{"domain":[0.685,2.065],"range":[374,261.3],"nice":false}},"text":{"field":"t"}}}
]},
{"data":{"values":[{"a":0,"b":1,"lo":1.934,"hi":2,"z":1.97},{"a":0,"b":1,"lo":1.868,"hi":1.934,"z":1.9},{"a":0,"b":1,"lo":1.802,"hi":1.868,"z":1.84},{"a":0,"b":1,"lo":1.736,"hi":1.802,"z":1.77},{"a":0,"b":1,"lo":1.67,"hi":1.736,"z":1.7},{"a":0,"b":1,"lo":1.604,"hi":1.67,"z":1.64},{"a":0,"b":1,"lo":1.538,"hi":1.604,"z":1.57},{"a":0,"b":1,"lo":1.472,"hi":1.538,"z":1.51},{"a":0,"b":1,"lo":1.406,"hi":1.472,"z":1.44},{"a":0,"b":1,"lo":1.34,"hi":1.406,"z":1.37},{"a":0,"b":1,"lo":1.274,"hi":1.34,"z":1.31},{"a":0,"b":1,"lo":1.208,"hi":1.274,"z":1.24},{"a":0,"b":1,"lo":1.142,"hi":1.208,"z":1.18},{"a":0,"b":1,"lo":1.076,"hi":1.142,"z":1.11},{"a":0,"b":1,"lo":1.01,"hi":1.076,"z":1.04},{"a":0,"b":1,"lo":0.944,"hi":1.01,"z":0.98},{"a":0,"b":1,"lo":0.878,"hi":0.944,"z":0.91},{"a":0,"b":1,"lo":0.812,"hi":0.878,"z":0.85},{"a":0,"b":1,"lo":0.746,"hi":0.812,"z":0.78},{"a":0,"b":1,"lo":0.68,"hi":0.746,"z":0.71}]},"mark":{"type":"rect"},"encoding":{
"x":{"field":"a","type":"quantitative","axis":null,"scale":{"domain":[0,1],"range":[444.4,461.7],"nice":false}},"x2":{"field":"b"},
"y":{"field":"lo","type":"quantitative","scale":{"domain":[0.68,2],"range":[400,0],"nice":false},"axis":{"orient":"right","offset":18.7,"values":[0.8,1,1.2,1.4,1.6,1.8,2],"format":"~g","domain":false,"grid":false,"zindex":1,"tickSize":-14,"tickColor":"#333","labelFont":"Liberation Sans","labelFontSize":17,"labelColor":"#222","labelPadding":17,"labelOverlap":false,"labelFlush":false,"title":null}},"y2":{"field":"hi"},
"color":{"field":"z","type":"quantitative","legend":null,"scale":{"type":"quantize","domain":[0.68,2],"range":["#2a3aa0","#1a44bc","#1454c8","#1068d8","#1278d8","#1387d2","#0f97cc","#0ea6c4","#1eaeb4","#30b5a5","#44b89a","#62b888","#8cba70","#aeb866","#c9b45a","#e2b84a","#f4bb36","#fecb20","#fee01f","#f9fb0e"]}}}}
]}
